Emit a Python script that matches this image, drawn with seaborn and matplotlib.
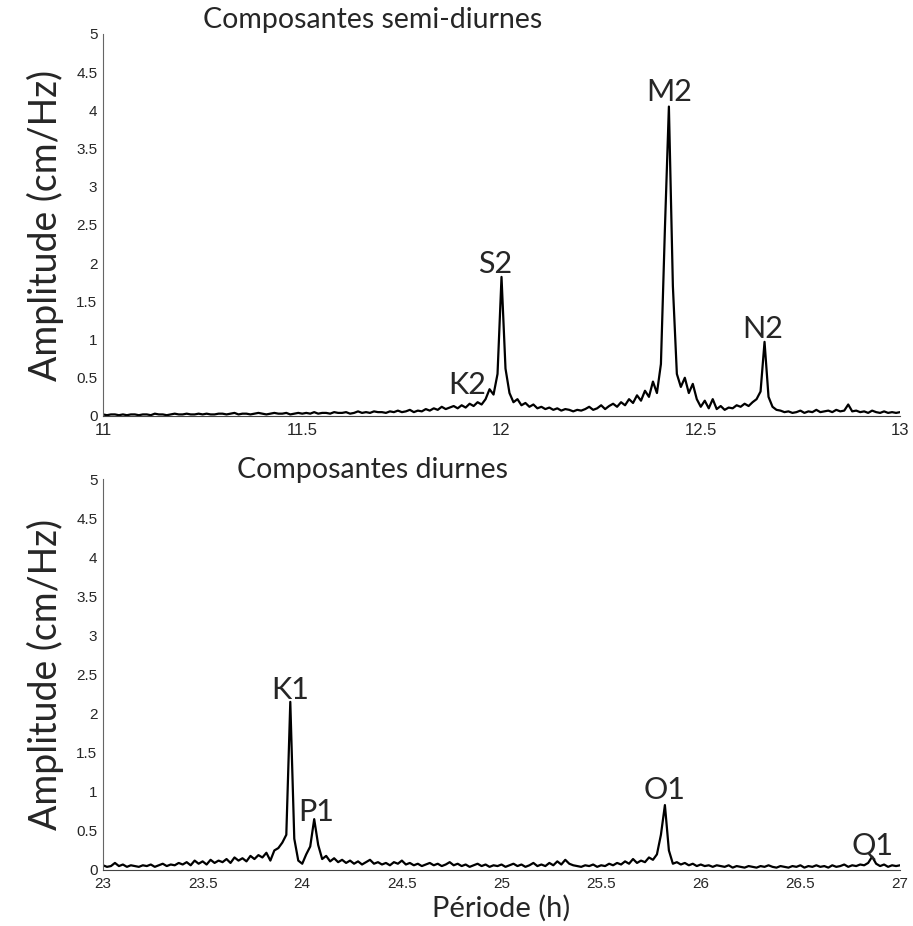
import numpy as np
import pandas as pd
import seaborn as sns
import matplotlib.pyplot as plt

# amplitude spectrum, semi-diurnal band, one value every 0.01 h from 11 to 13 h
semi_amp = [0.02, 0.01, 0.02, 0.02, 0.01, 0.02, 0.01, 0.02, 0.02, 0.01,
            0.02, 0.02, 0.01, 0.03, 0.02, 0.02, 0.01, 0.02, 0.03, 0.02,
            0.02, 0.03, 0.02, 0.02, 0.03, 0.02, 0.03, 0.02, 0.02, 0.03,
            0.03, 0.02, 0.03, 0.04, 0.02, 0.03, 0.03, 0.02, 0.03, 0.04,
            0.03, 0.02, 0.03, 0.04, 0.03, 0.03, 0.04, 0.02, 0.03, 0.04,
            0.03, 0.04, 0.03, 0.05, 0.03, 0.04, 0.04, 0.03, 0.05, 0.04,
            0.04, 0.05, 0.03, 0.04, 0.06, 0.04, 0.05, 0.04, 0.06, 0.05,
            0.05, 0.04, 0.06, 0.05, 0.07, 0.05, 0.06, 0.08, 0.05, 0.07,
            0.06, 0.09, 0.07, 0.10, 0.08, 0.12, 0.09, 0.11, 0.13, 0.10,
            0.14, 0.11, 0.16, 0.13, 0.18, 0.15, 0.22, 0.35, 0.28, 0.55,
            1.82, 0.62, 0.30, 0.18, 0.22, 0.14, 0.17, 0.12, 0.15, 0.10,
            0.12, 0.09, 0.11, 0.08, 0.10, 0.07, 0.09, 0.08, 0.06, 0.08,
            0.07, 0.09, 0.12, 0.08, 0.10, 0.14, 0.09, 0.13, 0.16, 0.12,
            0.18, 0.14, 0.22, 0.17, 0.27, 0.20, 0.33, 0.25, 0.45, 0.30,
            0.68, 2.45, 4.05, 1.70, 0.55, 0.38, 0.50, 0.30, 0.42, 0.22,
            0.12, 0.20, 0.10, 0.22, 0.09, 0.13, 0.08, 0.11, 0.10, 0.14,
            0.12, 0.16, 0.13, 0.18, 0.22, 0.32, 0.97, 0.25, 0.12, 0.08,
            0.07, 0.05, 0.06, 0.04, 0.05, 0.07, 0.04, 0.06, 0.05, 0.08,
            0.05, 0.06, 0.07, 0.05, 0.08, 0.06, 0.07, 0.15, 0.06, 0.07,
            0.05, 0.06, 0.04, 0.07, 0.05, 0.04, 0.06, 0.04, 0.05, 0.04,
            0.05]

# diurnal band, one value every 0.02 h from 23 to 27 h
diur_amp = [0.06, 0.04, 0.05, 0.09, 0.05, 0.07, 0.04, 0.06, 0.05, 0.04,
            0.06, 0.05, 0.07, 0.04, 0.06, 0.08, 0.05, 0.07, 0.06, 0.09,
            0.07, 0.10, 0.06, 0.12, 0.08, 0.11, 0.07, 0.13, 0.09, 0.12,
            0.10, 0.14, 0.09, 0.16, 0.12, 0.15, 0.11, 0.18, 0.14, 0.19,
            0.16, 0.22, 0.12, 0.25, 0.28, 0.35, 0.45, 2.15, 0.40, 0.12,
            0.08, 0.20, 0.30, 0.65, 0.32, 0.14, 0.18, 0.11, 0.15, 0.10,
            0.13, 0.09, 0.12, 0.08, 0.11, 0.07, 0.10, 0.13, 0.08, 0.10,
            0.07, 0.09, 0.06, 0.10, 0.08, 0.12, 0.07, 0.09, 0.06, 0.08,
            0.05, 0.07, 0.09, 0.06, 0.08, 0.05, 0.07, 0.10, 0.06, 0.08,
            0.05, 0.07, 0.04, 0.06, 0.08, 0.05, 0.07, 0.04, 0.06, 0.05,
            0.07, 0.04, 0.06, 0.08, 0.05, 0.07, 0.04, 0.06, 0.09, 0.05,
            0.07, 0.05, 0.09, 0.06, 0.11, 0.07, 0.13, 0.08, 0.06, 0.05,
            0.04, 0.06, 0.05, 0.07, 0.04, 0.06, 0.05, 0.08, 0.06, 0.09,
            0.07, 0.11, 0.08, 0.14, 0.09, 0.12, 0.10, 0.16, 0.13, 0.20,
            0.45, 0.83, 0.25, 0.08, 0.10, 0.07, 0.09, 0.06, 0.08, 0.05,
            0.07, 0.05, 0.06, 0.04, 0.06, 0.05, 0.04, 0.06, 0.03, 0.05,
            0.04, 0.03, 0.05, 0.04, 0.03, 0.05, 0.04, 0.06, 0.04, 0.03,
            0.05, 0.04, 0.03, 0.05, 0.04, 0.06, 0.03, 0.05, 0.04, 0.06,
            0.04, 0.05, 0.03, 0.06, 0.04, 0.05, 0.07, 0.04, 0.06, 0.05,
            0.07, 0.06, 0.09, 0.17, 0.08, 0.05, 0.07, 0.04, 0.06, 0.05,
            0.06]

semi_names = ['K2', 'S2', 'M2', 'N2']
semi_pos = [11.915, 11.985, 12.42, 12.655]
semi_lab_y = [0.22, 1.80, 4.06, 0.96]

diur_names = ['K1', 'P1', 'O1', 'Q1']
diur_pos = [23.94, 24.07, 25.82, 26.86]
diur_lab_y = [2.12, 0.56, 0.84, 0.14]

semi = pd.DataFrame({'period': np.linspace(11, 13, len(semi_amp)), 'amp': semi_amp})
diur = pd.DataFrame({'period': np.linspace(23, 27, len(diur_amp)), 'amp': diur_amp})

sns.set_style('white')
plt.rcParams['font.family'] = ['Lato', 'DejaVu Sans']

fig = plt.figure(figsize=(9.13, 9.26), dpi=100)
ax1 = fig.add_axes([0.1128, 0.5508, 0.873, 0.4125])
ax2 = fig.add_axes([0.1128, 0.0605, 0.873, 0.4222])

panels = [(ax1, semi, semi_names, semi_pos, semi_lab_y, (11, 13), [11, 11.5, 12, 12.5, 13], 12,
           'Composantes semi-diurnes', 0.978),
          (ax2, diur, diur_names, diur_pos, diur_lab_y, (23, 27), [23, 23.5, 24, 24.5, 25, 25.5, 26, 26.5, 27], 11,
           'Composantes diurnes', 0.492)]

yt = [0, 0.5, 1, 1.5, 2, 2.5, 3, 3.5, 4, 4.5, 5]

for ax, df, names, pos, laby, xl, xt, xfs, title, ty in panels:
    sns.lineplot(data=df, x='period', y='amp', ax=ax, color='black', lw=1.6)
    ax.set_xlim(xl)
    ax.set_ylim(0, 5)
    ax.set_xticks(xt)
    ax.set_xticklabels([('%g' % v) for v in xt], family='Liberation Sans', fontsize=xfs)
    ax.set_yticks(yt)
    ax.set_yticklabels([('%g' % v) for v in yt], family='Liberation Sans', fontsize=11)
    ax.tick_params(direction='in', length=5, color='#666666')
    ax.tick_params(axis='x', pad=5)
    ax.tick_params(axis='y', pad=4)
    for s in ['top', 'right']:
        ax.spines[s].set_visible(False)
    ax.spines['left'].set_color('#666666')
    ax.spines['bottom'].set_color('#444444')
    ax.set_xlabel('')
    ax.set_ylabel('Amplitude (cm/Hz)', fontsize=27, labelpad=9)
    for n, p, yv in zip(names, pos, laby):
        ax.text(p, yv, n, ha='center', va='bottom', fontsize=22)
    fig.text(0.408, ty, title, ha='center', va='center', fontsize=20.5)

ax2.set_xlabel('Période (h)', fontsize=21, labelpad=3)

fig.savefig('out.png', dpi=100)
